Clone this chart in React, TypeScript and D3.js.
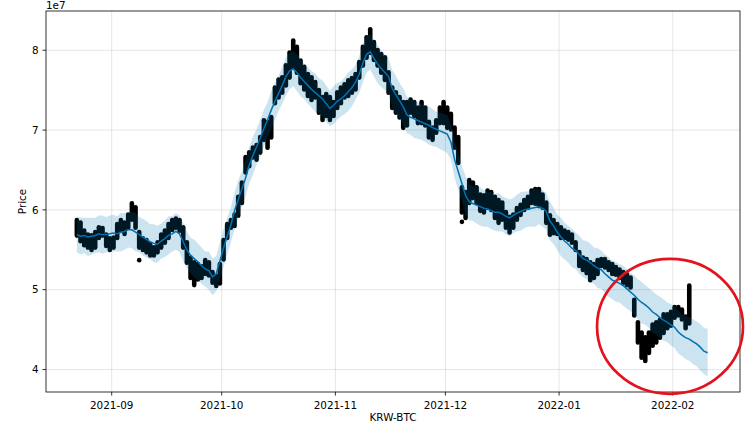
import React from 'react';
import * as d3 from 'd3';

// ---- data (prices in millions of KRW) ----
const START = Date.UTC(2021, 7, 22, 12); // first ds
const DAY = 86400000;

const yhatM = [
  56.9,56.7,56.8,56.6,56.7,56.8,57.0,56.9,56.9,57.0,
  57.1,57.0,57.2,57.3,57.5,57.5,57.2,56.9,56.6,56.3,
  56.0,55.8,55.7,56.1,56.4,56.8,57.0,57.3,57.0,56.0,
  55.0,54.3,53.9,53.5,53.0,52.6,52.4,51.6,52.0,53.6,
  55.2,56.7,58.1,59.9,61.3,62.6,64.0,65.6,66.8,67.9,
  69.0,70.2,71.3,72.5,73.6,74.6,75.6,76.7,77.4,77.7,
  77.2,76.6,76.1,75.6,75.1,74.7,74.3,73.9,73.3,72.7,
  73.1,73.6,73.9,74.3,74.8,75.3,76.0,77.0,78.4,79.5,
  79.8,79.0,78.3,77.7,77.2,76.7,75.2,74.4,73.7,72.9,
  71.9,71.6,71.4,71.2,71.0,70.8,70.6,70.3,70.1,69.9,
  69.7,69.5,68.5,66.3,64.8,63.3,61.8,61.0,60.8,60.6,
  60.4,60.2,60.1,59.9,59.7,59.7,59.5,59.2,59.0,59.3,
  59.6,59.8,60.0,60.1,60.2,60.3,60.4,60.2,59.8,58.6,
  58.0,57.2,56.6,56.1,55.7,55.2,54.9,54.4,53.9,53.7,
  53.4,53.0,52.7,52.5,52.0,51.6,51.2,51.0,50.8,50.5,
  50.1,49.7,49.3,48.8,48.4,48.1,47.7,47.2,46.9,46.5,
  46.2,45.9,45.6,45.3,44.7,44.3,44.0,43.8,43.5,43.2,
  42.8,42.3,42.1,
];

const bandHalfM = [
  2.2,2.3,2.2,2.4,2.3,2.2,2.3,2.4,2.2,2.3,
  2.3,2.2,2.4,2.3,2.2,2.3,2.4,2.2,2.3,2.3,
  2.2,2.4,2.3,2.2,2.3,2.4,2.2,2.3,2.3,2.4,
  2.3,2.2,2.4,2.3,2.3,2.2,2.4,2.3,2.2,2.3,
  2.4,2.3,2.2,2.3,2.4,2.2,2.3,2.3,2.4,2.2,
  2.3,2.3,2.2,2.4,2.3,2.2,2.3,2.4,2.3,2.2,
  2.3,2.4,2.2,2.3,2.3,2.4,2.2,2.3,2.3,2.2,
  2.4,2.3,2.2,2.3,2.4,2.3,2.2,2.3,2.4,2.3,
  2.2,2.3,2.4,2.3,2.2,2.3,2.3,2.4,2.2,2.3,
  2.3,2.2,2.4,2.3,2.2,2.3,2.4,2.3,2.2,2.3,
  2.3,2.4,2.2,2.3,2.3,2.2,2.4,2.3,2.2,2.3,
  2.4,2.3,2.2,2.3,2.3,2.4,2.2,2.3,2.3,2.2,
  2.3,2.4,2.3,2.2,2.3,2.4,2.2,2.3,2.3,2.4,
  2.3,2.2,2.4,2.3,2.3,2.4,2.3,2.4,2.3,2.4,
  2.4,2.3,2.5,2.4,2.4,2.5,2.4,2.5,2.4,2.5,
  2.5,2.4,2.5,2.5,2.6,2.5,2.5,2.6,2.5,2.6,
  2.6,2.5,2.6,2.6,2.7,2.6,2.7,2.7,2.8,2.8,
  2.9,2.9,3.0,
];

const obsHighM = [
  59.0,58.7,57.7,57.2,57.1,57.5,58.1,58.0,57.2,56.7,
  56.8,58.5,59.0,58.7,59.7,61.1,60.6,57.5,56.7,56.5,
  56.0,55.6,56.2,57.2,57.7,58.5,59.0,59.2,59.0,58.1,
  56.2,54.3,53.7,53.5,53.2,54.0,53.7,52.5,52.0,53.5,
  56.5,58.5,59.0,59.7,61.9,63.7,66.9,67.5,68.1,68.4,
  69.4,71.5,71.3,71.9,75.6,76.6,76.9,78.4,80.0,81.5,
  80.7,79.0,78.2,77.3,76.9,76.3,75.3,74.4,74.8,74.4,
  73.8,75.0,75.6,76.0,76.5,76.8,77.3,78.8,80.7,81.9,
  82.9,81.3,80.3,79.8,79.4,77.5,75.6,75.0,74.4,73.8,
  73.8,74.1,73.8,73.1,73.8,73.1,71.3,70.6,71.5,73.1,
  73.8,73.1,72.3,70.6,69.4,63.1,62.5,64.0,63.7,63.1,
  62.2,62.1,62.7,62.5,61.9,61.5,61.2,60.0,59.4,59.7,
  60.5,60.9,61.5,61.9,62.7,62.9,62.9,62.2,61.2,59.6,
  59.0,58.5,58.1,57.7,57.5,57.2,56.2,55.0,54.3,54.1,
  53.7,53.5,54.0,54.1,54.1,53.7,53.5,53.1,52.8,52.5,
  52.2,51.8,49.0,46.2,44.9,44.3,44.9,45.9,46.2,46.5,
  47.2,47.2,47.5,48.1,48.1,47.8,46.9,50.8,
];

const obsLowM = [
  56.5,55.8,55.3,55.0,54.7,55.0,56.2,56.5,55.2,54.7,
  55.0,56.2,57.2,56.7,57.5,58.5,57.5,55.0,54.7,54.4,
  54.0,54.0,54.4,55.0,55.6,56.2,57.2,57.5,57.1,55.0,
  53.1,51.2,50.3,51.0,51.2,51.7,51.5,50.6,50.2,50.5,
  53.5,56.2,57.5,57.7,59.0,60.6,64.4,65.2,66.3,66.0,
  66.9,68.5,67.5,68.8,73.1,73.8,74.4,75.3,76.3,77.5,
  76.9,75.6,74.8,74.0,73.5,73.8,71.9,71.0,71.5,71.0,
  71.5,72.5,73.1,73.8,74.0,74.4,74.8,76.3,77.8,78.8,
  79.4,78.5,77.8,76.9,76.0,74.4,72.5,71.9,71.3,70.0,
  70.3,71.9,71.5,70.6,70.6,70.3,68.8,68.5,69.4,70.6,
  70.6,70.0,69.8,67.5,65.6,59.4,58.7,60.6,61.2,60.6,
  59.6,59.4,60.0,59.7,58.7,58.1,58.5,57.5,56.9,57.5,
  58.5,59.1,59.7,60.0,60.6,60.5,60.2,60.0,58.1,56.6,
  56.8,56.7,56.2,56.2,56.0,55.6,54.7,52.7,52.2,51.8,
  50.9,51.2,51.7,52.7,52.5,52.2,51.7,51.6,51.2,50.6,
  50.3,50.0,46.5,43.1,41.2,40.8,41.8,42.7,43.1,43.7,
  44.3,44.9,45.2,46.2,46.5,46.0,44.9,45.5,
];

const outlierDay = [17, 105];
const outlierM = [53.7, 58.5];

const xTickLabels = ['2021-09', '2021-10', '2021-11', '2021-12', '2022-01', '2022-02'];
const yTickLabels = [4, 5, 6, 7, 8]; // × 1e7
const xDomain = [Date.UTC(2021, 7, 14, 2), Date.UTC(2022, 1, 19, 8)];
const yDomainM = [37.18, 84.92];

// annotation ellipse (data units: day index, millions)
const circleDay = 161.75;
const circleM = 45.4;
const circleRxDays = 19.9;
const circleRyM = 8.45;

const W = 750, H = 423;
const L = 46, R = 740, T = 11, B = 392;
const FONT = 'DejaVu Sans, sans-serif';

export default function App() {
  const x = d3.scaleUtc().domain(xDomain.map((t) => new Date(t))).range([L, R]);
  const y = d3.scaleLinear().domain([yDomainM[0] * 1e6, yDomainM[1] * 1e6]).range([B, T]);
  const dateOf = (i: number) => new Date(START + i * DAY);

  const line = d3.line<number>()
    .x((_, i) => x(dateOf(i)))
    .y((v) => y(v * 1e6));
  const area = d3.area<number>()
    .x((_, i) => x(dateOf(i)))
    .y0((v, i) => y((v - bandHalfM[i]) * 1e6))
    .y1((v, i) => y((v + bandHalfM[i]) * 1e6));

  const xTicks = xTickLabels.map((s) => {
    const [yy, mm] = s.split('-').map(Number);
    return { s, px: x(new Date(Date.UTC(yy, mm - 1, 1))) };
  });

  const cx = x(dateOf(circleDay));
  const cy = y(circleM * 1e6);
  const rx = x(dateOf(circleDay + circleRxDays)) - cx;
  const ry = y((circleM - circleRyM) * 1e6) - cy;

  return (
    <svg width={W} height={H} style={{ position: 'absolute', left: 0, top: 0, background: '#fff' }}
      fontFamily={FONT}>
      <rect x={0} y={0} width={W} height={H} fill="#fff" />
      {/* grid */}
      {xTicks.map((t) => (
        <line key={'gx' + t.s} x1={t.px} x2={t.px} y1={T} y2={B} stroke="gray" strokeOpacity={0.2} strokeWidth={1} />
      ))}
      {yTickLabels.map((v) => (
        <line key={'gy' + v} x1={L} x2={R} y1={y(v * 1e7)} y2={y(v * 1e7)} stroke="gray" strokeOpacity={0.2} strokeWidth={1} />
      ))}
      {/* observations */}
      <g>
        {obsHighM.map((hi, i) => {
          const px = x(dateOf(i));
          let y1 = y(hi * 1e6) + 2.2;
          let y2 = y(obsLowM[i] * 1e6) - 2.2;
          if (y2 < y1) { const m = (y1 + y2) / 2; y1 = m; y2 = m; }
          return <line key={'o' + i} x1={px} x2={px} y1={y1} y2={y2} stroke="#000" strokeWidth={4.6} strokeLinecap="round" />;
        })}
        {outlierDay.map((dd, i) => (
          <circle key={'out' + i} cx={x(dateOf(dd))} cy={y(outlierM[i] * 1e6)} r={2.3} fill="#000" />
        ))}
      </g>
      {/* forecast */}
      <path d={line(yhatM) || ''} fill="none" stroke="#0072B2" strokeWidth={1.5} />
      <path d={area(yhatM) || ''} fill="#0072B2" fillOpacity={0.2} stroke="none" />
      {/* spines */}
      <rect x={L} y={T} width={R - L} height={B - T} fill="none" stroke="#000" strokeWidth={0.8} />
      {/* x ticks */}
      {xTicks.map((t) => (
        <g key={'xt' + t.s}>
          <line x1={t.px} x2={t.px} y1={B} y2={B + 3.6} stroke="#000" strokeWidth={0.8} />
          <text x={t.px} y={409} fontSize={10.4} textAnchor="middle" fill="#000">{t.s}</text>
        </g>
      ))}
      {/* y ticks */}
      {yTickLabels.map((v) => (
        <g key={'yt' + v}>
          <line x1={L - 3.6} x2={L} y1={y(v * 1e7)} y2={y(v * 1e7)} stroke="#000" strokeWidth={0.8} />
          <text x={L - 7.4} y={y(v * 1e7)} dy="0.36em" fontSize={10.4} textAnchor="end" fill="#000">{v}</text>
        </g>
      ))}
      <text x={L} y={8.5} fontSize={10.4} fill="#000">1e7</text>
      <text x={(L + R) / 2} y={421} fontSize={10.4} textAnchor="middle" fill="#000">KRW-BTC</text>
      <text transform={`translate(26, ${(T + B) / 2}) rotate(-90)`} fontSize={10.4} textAnchor="middle" fill="#000">Price</text>
      {/* annotation */}
      <ellipse cx={cx} cy={cy} rx={rx} ry={ry} fill="none" stroke="#e3121c" strokeWidth={2.7} />
    </svg>
  );
}
